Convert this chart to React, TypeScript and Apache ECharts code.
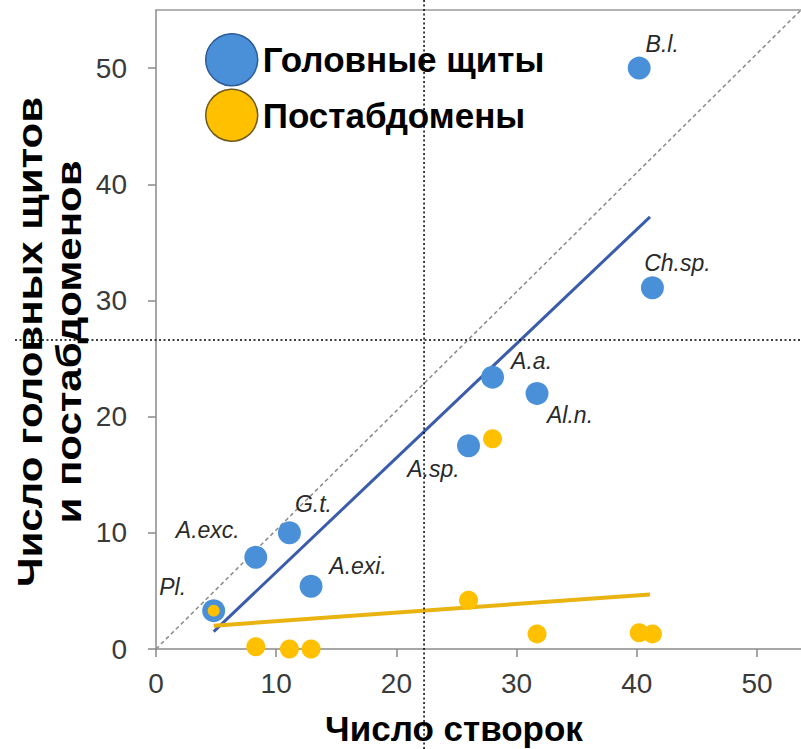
import React, { useEffect, useRef } from "react";
import * as echarts from "echarts";

// ---- data ----
const POINT_NAMES = ["Pl.", "A.exc.", "G.t.", "A.exi.", "A.sp.", "A.a.", "Al.n.", "Ch.sp.", "B.l."];
const VALVES = [4.8, 8.3, 11.1, 12.9, 26.0, 28.0, 31.7, 41.3, 40.2];
const HEAD_SHIELDS = [3.3, 7.9, 10.0, 5.4, 17.5, 23.4, 22.0, 31.1, 50.0];
const POSTABDOMENS = [3.3, 0.2, 0.0, 0.0, 4.2, 18.1, 1.3, 1.3, 1.4];
const TREND_X = [4.8, 41.1];
const HEAD_TREND_Y = [1.5, 37.2];
const POST_TREND_Y = [2.0, 4.7];
const X_MAX = 53.66;
const Y_MAX = 55;
const DIAGONAL_X = [0, X_MAX];
const DIAGONAL_Y = [0, Y_MAX];
const REF_X = 22.3;
const REF_Y = 26.6;
const TICKS = [0, 10, 20, 30, 40, 50];
const SERIES_NAMES = ["Головные щиты", "Постабдомены"];
const X_TITLE = "Число створок";
const Y_TITLE = "Число головных щитов\nи постабдоменов";

// ---- style ----
const FONT = "Liberation Sans, Arial, sans-serif";
const LABEL_OFFSETS = [
  [-41, -24], [-48, -27], [24, -29], [47, -20], [-35, 23],
  [39, -16], [33, 22], [25, -25], [23, -24],
];

export default function App() {
  const ref = useRef<HTMLDivElement>(null);
  useEffect(() => {
    if (!ref.current) return;
    const chart = echarts.init(ref.current, undefined, { renderer: "svg" });
    const lineCol = "#8a8a8a";
    const axisCommon = {
      type: "value" as const,
      min: 0,
      interval: 10,
      splitLine: { show: false },
      axisLine: { show: true, lineStyle: { color: lineCol, width: 1.5 } },
      axisTick: { show: true, length: 8, lineStyle: { color: lineCol, width: 1.5 }, customValues: TICKS },
      axisLabel: { fontSize: 28, color: "#3a3a3a", fontFamily: FONT, customValues: TICKS },
    };
    chart.setOption({
      animation: false,
      backgroundColor: "#ffffff",
      grid: { left: 156, top: 10, right: 0, bottom: 100, show: false },
      xAxis: [
        { ...axisCommon, max: X_MAX, axisLabel: { ...axisCommon.axisLabel, margin: 20 } },
        {
          type: "value", min: 0, max: X_MAX, position: "top",
          axisLine: { show: true, lineStyle: { color: "#9a9a9a", width: 1.5 } },
          axisTick: { show: false }, axisLabel: { show: false }, splitLine: { show: false },
        },
      ],
      yAxis: { ...axisCommon, max: Y_MAX, axisLabel: { ...axisCommon.axisLabel, margin: 29 } },
      legend: {
        data: [
          { name: SERIES_NAMES[0], itemStyle: { borderColor: "#2d5c99", borderWidth: 1.5 } },
          { name: SERIES_NAMES[1], itemStyle: { borderColor: "#6d5a1c", borderWidth: 1.5 } },
        ],
        orient: "vertical",
        left: 205,
        top: 33,
        padding: 0,
        icon: "circle",
        itemWidth: 52,
        itemHeight: 52,
        itemGap: 2,
        textStyle: { fontSize: 35, fontWeight: "bold", color: "#000", fontFamily: FONT },
      },
      series: [
        {
          type: "line",
          data: DIAGONAL_X.map((x, i) => [x, DIAGONAL_Y[i]]),
          symbol: "none",
          silent: true,
          lineStyle: { color: "#8a8a8a", width: 1.5, type: [4, 3] },
          z: 1,
        },
        {
          type: "line",
          data: TREND_X.map((x, i) => [x, HEAD_TREND_Y[i]]),
          symbol: "none",
          silent: true,
          lineStyle: { color: "#3a5cab", width: 3 },
          z: 2,
        },
        {
          type: "line",
          data: TREND_X.map((x, i) => [x, POST_TREND_Y[i]]),
          symbol: "none",
          silent: true,
          lineStyle: { color: "#e9b311", width: 4 },
          z: 2,
        },
        {
          name: SERIES_NAMES[0],
          type: "scatter",
          symbolSize: 23,
          itemStyle: { color: "#4a90d9", opacity: 1 },
          z: 3,
          data: VALVES.map((x, i) => ({
            value: [x, HEAD_SHIELDS[i]],
            name: POINT_NAMES[i],
            label: { offset: LABEL_OFFSETS[i] },
          })),
          label: {
            show: true,
            position: "inside",
            formatter: (p: any) => p.name,
            fontSize: 23,
            fontStyle: "italic",
            color: "#2a2a2a",
            fontFamily: FONT,
          },
        },
        {
          name: SERIES_NAMES[1],
          type: "scatter",
          symbolSize: (_v: any, p: any) => (p.dataIndex === 0 ? 12 : 19),
          itemStyle: { color: "#ffc000", opacity: 1 },
          z: 4,
          data: VALVES.map((x, i) => [x, POSTABDOMENS[i]]),
        },
      ],
    });
    const [px, py] = chart.convertToPixel({ xAxisIndex: 0, yAxisIndex: 0 }, [REF_X, REF_Y]) as number[];
    const dotted = { stroke: "#000", lineWidth: 1.5, lineDash: [2, 2.5] };
    chart.setOption({
      graphic: [
        { type: "line", shape: { x1: px, y1: 0, x2: px, y2: 749 }, style: dotted, z: 10, silent: true },
        { type: "line", shape: { x1: 15, y1: py, x2: 801, y2: py }, style: dotted, z: 10, silent: true },
        {
          type: "text",
          x: 454,
          y: 728,
          z: 5,
          style: {
            text: X_TITLE, fontSize: 35, fontWeight: "bold", fill: "#000", fontFamily: FONT,
            align: "center", verticalAlign: "middle",
          },
        },
        {
          type: "text",
          x: 49,
          y: 342,
          rotation: Math.PI / 2,
          scaleX: 1.2,
          z: 5,
          style: {
            text: Y_TITLE, fontSize: 35, fontWeight: "bold", fill: "#000", fontFamily: FONT,
            align: "center", verticalAlign: "middle", lineHeight: 39,
          },
        },
      ],
    });
    return () => chart.dispose();
  }, []);
  return <div ref={ref} style={{ position: "absolute", left: 0, top: 0, width: 801, height: 749 }} />;
}
